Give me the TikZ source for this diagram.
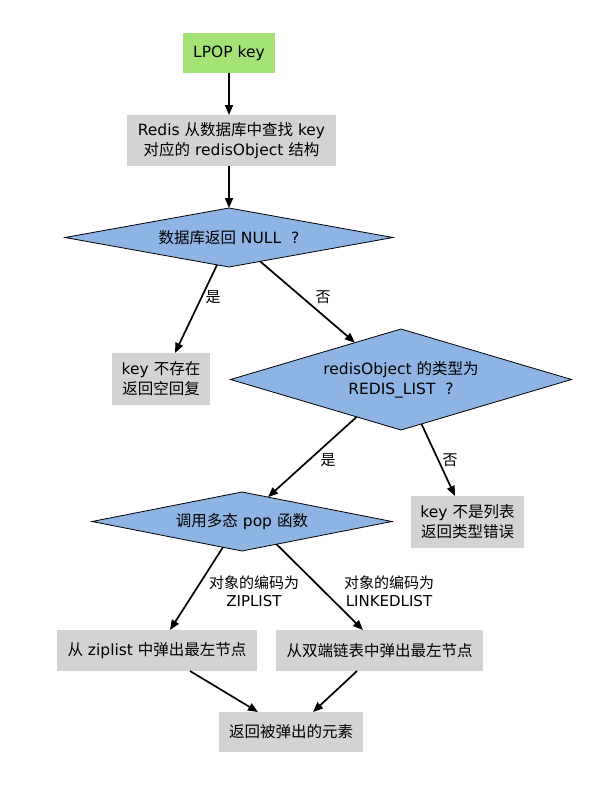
\documentclass[tikz,border=0pt]{standalone}
\usepackage{fontspec}
\setmainfont{DejaVu Sans}
\newfontfamily\cjkf{Noto Sans CJK SC}
\newcommand{\zh}[1]{{\cjkf #1}}
\usetikzlibrary{shapes.geometric,arrows.meta,calc}
\definecolor{boxgreen}{RGB}{163,226,117}
\definecolor{boxgray}{RGB}{211,211,211}
\definecolor{dfill}{RGB}{142,180,227}
\begin{document}
\begin{tikzpicture}[x=1pt,y=-1pt,
  every node/.style={font=\fontsize{15.5}{20}\selectfont, inner sep=0pt, outer sep=0pt},
  greenbox/.style={rectangle, fill=boxgreen, align=center},
  graybox/.style={rectangle, fill=boxgray, align=center},
  decision/.style={diamond, fill=dfill, draw=black, line width=0.8pt, align=center},
  flow/.style={-{Triangle[length=10pt,width=8pt]}, line width=1.7pt},
  lbl/.style={align=center, font=\fontsize{15}{18}\selectfont}]
\useasboundingbox (0,0) rectangle (608,793);
\node[greenbox, minimum width=92pt, minimum height=40pt] (start) at (229,53) {LPOP key};
\node[graybox, minimum width=209pt, minimum height=51pt] (find) at (231.5,140.5) {Redis \zh{从数据库中查找} key\\\zh{对应的} redisObject \zh{结构}};
\node[decision, aspect=5.56, minimum width=328pt, minimum height=59pt] (isnull) at (229,237.5) {\zh{数据库返回} NULL\hspace{10pt}?};
\node[graybox, minimum width=98pt, minimum height=52pt] (nokey) at (161,379) {key \zh{不存在}\\\zh{返回空回复}};
\node[decision, aspect=3.38, minimum width=341pt, minimum height=101pt] (islist) at (401,379.5) {redisObject \zh{的类型为}\\REDIS\_LIST\hspace{10pt}?};
\node[graybox, minimum width=113pt, minimum height=52pt] (notlist) at (467.5,522) {key \zh{不是列表}\\\zh{返回类型错误}};
\node[decision, aspect=5.08, minimum width=300pt, minimum height=59pt] (pop) at (242,521.5) {\zh{调用多态} pop \zh{函数}};
\node[graybox, minimum width=200pt, minimum height=41pt] (zip) at (157,650.5) {\zh{从} ziplist \zh{中弹出最左节点}};
\node[graybox, minimum width=207pt, minimum height=41pt] (linked) at (379.5,650.5) {\zh{从双端链表中弹出最左节点}};
\node[graybox, minimum width=144pt, minimum height=40pt] (ret) at (291,732) {\zh{返回被弹出的元素}};

\draw[flow] (start.south) -- (start.south |- find.north);
\draw[flow] (isnull.north |- find.south) -- (isnull.north);
\draw[flow] ($(isnull.south)!0.073!(isnull.west)$) -- ([xshift=14pt]nokey.north);
\draw[flow] ($(isnull.south)!0.19!(isnull.east)$) -- ($(islist.north)!0.27!(islist.west)$);
\draw[flow] ($(islist.south)!0.26!(islist.west)$) -- ($(pop.north)!0.173!(pop.east)$);
\draw[flow] ($(islist.south)!0.12!(islist.east)$) -- ([xshift=-12.5pt]notlist.north);
\draw[flow] ($(pop.south)!0.127!(pop.west)$) -- ([xshift=13pt]zip.north);
\draw[flow] ($(pop.south)!0.23!(pop.east)$) -- ([xshift=-16.5pt]linked.north);
\draw[flow] ([xshift=33pt]zip.south) -- ([xshift=-33pt]ret.north);
\draw[flow] ([xshift=-22.5pt]linked.south) -- ([xshift=22pt]ret.north);

\node[lbl] (yes1) at (213,297) {\zh{是}};
\node[lbl] (no1) at (323,297) {\zh{否}};
\node[lbl] (yes2) at (328,460) {\zh{是}};
\node[lbl] (no2) at (450,460) {\zh{否}};
\node[lbl] (enczip) at (254,591) {\zh{对象的编码为}\\ZIPLIST};
\node[lbl] (enclink) at (389,591) {\zh{对象的编码为}\\LINKEDLIST};
\end{tikzpicture}
\end{document}
